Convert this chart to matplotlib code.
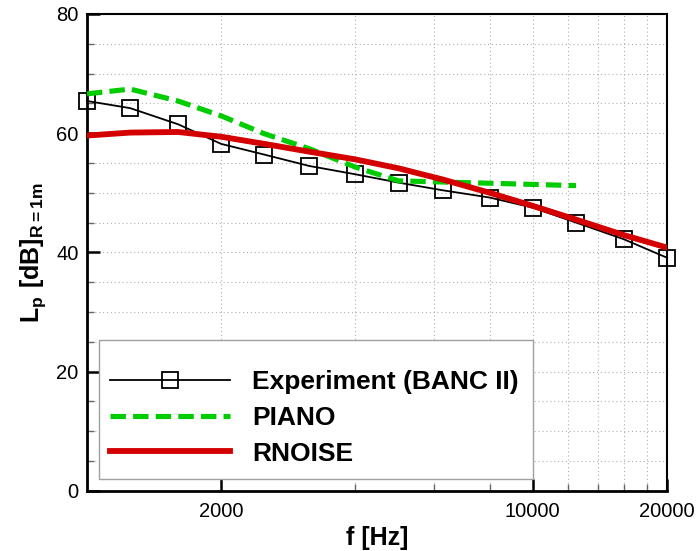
import matplotlib
matplotlib.use("Agg")
import matplotlib.pyplot as plt
from matplotlib.ticker import FixedLocator, NullFormatter, FixedFormatter
from matplotlib.patches import Rectangle

plt.rcParams['font.family'] = ['Liberation Sans', 'DejaVu Sans']
plt.rcParams['mathtext.fontset'] = 'custom'
plt.rcParams['mathtext.bf'] = 'Liberation Sans:bold'
plt.rcParams['mathtext.rm'] = 'Liberation Sans'

freq = [1000, 1250, 1600, 2000, 2500, 3150, 4000, 5000, 6300, 8000, 10000, 12500, 16000, 20000]
exp_vals = [65.4, 64.2, 61.5, 58.2, 56.4, 54.5, 53.1, 51.7, 50.4, 49.2, 47.5, 45.0, 42.2, 39.1]
piano_freq = [1000, 1250, 1600, 2000, 2500, 3150, 4000, 5000, 6300, 8000, 10000, 12500]
piano_vals = [66.6, 67.4, 65.4, 62.9, 59.9, 57.4, 54.3, 52.0, 51.8, 51.6, 51.4, 51.2]
rnoise_vals = [59.6, 60.1, 60.2, 59.4, 58.2, 56.9, 55.6, 54.1, 52.2, 50.0, 47.8, 45.5, 42.9, 40.8]

x_major = [2000, 10000, 20000]
x_minor = [4000, 6000, 8000, 12000, 14000, 16000, 18000]
x_labels = ['2000', '10000', '20000']

W, H = 697, 551
L, R, T, B = 87, 667, 14, 490.7
fig = plt.figure(figsize=(W/100, H/100), dpi=100)
ax = fig.add_axes([L/W, 1 - B/H, (R-L)/W, (B-T)/H])

def axfrac(px, py):
    return ((px - L) / (R - L), (B - py) / (B - T))

ax.plot(freq, exp_vals, color='black', lw=1.3, marker='s', ms=11, mfc='none',
        mec='black', mew=1.3, clip_on=False, zorder=3, label='Experiment (BANC II)')
ax.plot(piano_freq, piano_vals, color='#00cc00', lw=3.7, ls=(0, (3.0, 1.4)),
        zorder=4, label='PIANO')
ax.plot(freq, rnoise_vals, color='#d40000', lw=4.2, zorder=5, label='RNOISE')

ax.set_xscale('log')
ax.set_xlim(1000, 20000)
ax.set_ylim(0, 80)
ax.xaxis.set_major_locator(FixedLocator(x_major))
ax.xaxis.set_major_formatter(FixedFormatter(x_labels))
ax.xaxis.set_minor_locator(FixedLocator(x_minor))
ax.xaxis.set_minor_formatter(NullFormatter())
ax.yaxis.set_major_locator(FixedLocator([0, 20, 40, 60, 80]))
ax.yaxis.set_minor_locator(FixedLocator([v for v in range(5, 80, 5) if v % 20]))

ax.tick_params(which='both', direction='in', top=False, right=False, labelsize=14.5)
ax.tick_params(which='major', length=9, width=1.8)
ax.tick_params(which='minor', length=5, width=1.0, color='#666666')
ax.tick_params(axis='x', pad=8)
ax.tick_params(axis='y', pad=6)

ax.grid(which='both', color='#b0b0b0', ls=(0, (1, 2.5)), lw=0.8)
ax.set_axisbelow(True)

for s in ['left', 'bottom']:
    ax.spines[s].set_linewidth(2.0)
for s in ['top', 'right']:
    ax.spines[s].set_linewidth(1.5)

ax.set_xlabel('f [Hz]', fontsize=18, fontweight='bold', labelpad=4)
ax.set_ylabel(r'$\mathbf{L_p\ [dB]_{R=1m}}$', fontsize=18, labelpad=6)

# legend frame
x0, y0 = axfrac(98.7, 479)
x1, y1 = axfrac(533, 340)
ax.add_patch(Rectangle((x0, y0), x1 - x0, y1 - y0, transform=ax.transAxes,
                       facecolor='white', edgecolor='#a0a0a0', lw=1.0, zorder=2.5))

hx, hy = axfrac(110, 418)
leg = ax.legend(loc='center left', bbox_to_anchor=(hx, hy),
                prop={'weight': 'bold', 'size': 19}, handlelength=4.55,
                handletextpad=0.83, labelspacing=0.44, borderpad=0.0,
                borderaxespad=0.0, numpoints=1, frameon=False)

fig.savefig('out.png', dpi=100)
